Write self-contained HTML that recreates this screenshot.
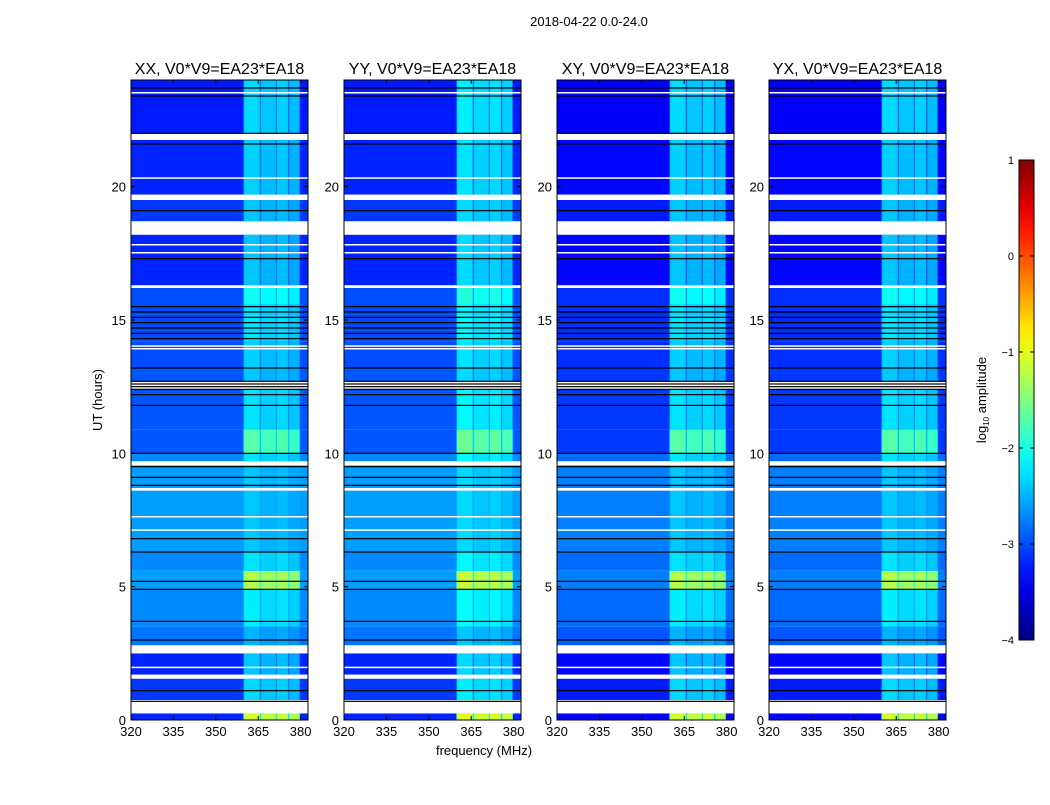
<!DOCTYPE html>
<html><head><meta charset="utf-8"><style>
body{margin:0;background:#fff;font-family:"Liberation Sans",sans-serif}
svg text{font-family:"Liberation Sans",sans-serif;fill:#000}
</style></head><body>
<svg id="fig" width="1050" height="800" viewBox="0 0 1050 800" xmlns="http://www.w3.org/2000/svg">
<rect width="1050" height="800" fill="#fff"/>
<text x="589" y="26" font-size="13" text-anchor="middle">2018-04-22 0.0-24.0</text>
<text x="484" y="755" font-size="13" text-anchor="middle">frequency (MHz)</text>
<text transform="translate(102,400) rotate(-90)" font-size="13" text-anchor="middle">UT (hours)</text>
<g id="panels"></g>
<g id="cbar"></g>
</svg>
<script>
const panelTitles = ["XX, V0*V9=EA23*EA18","YY, V0*V9=EA23*EA18","XY, V0*V9=EA23*EA18","YX, V0*V9=EA23*EA18"];
const freqTicks = [320,335,350,365,380];
const timeTicks = [0,5,10,15,20];
const segStart = [0,0.75,1.7,2.8,3.5,4.9,5.6,6.3,9.7,10.0,10.9,12.7,13.2,14.2,15.6,16.3,18.7,19.7,22.0];
const segEnd   = [0.25,1.55,2.5,3.5,4.9,5.6,6.3,9.55,10.0,10.9,12.4,13.2,14.2,15.6,16.2,18.2,19.5,21.75,24];
const bgLevel   = [-3.2,-3.1,-3.2,-2.8,-2.7,-2.6,-2.7,-2.6,-2.7,-2.95,-2.95,-2.95,-3.0,-3.0,-3.0,-3.2,-3.1,-3.2,-3.25];
const bandLevel = [-1.2,-2.4,-2.5,-2.6,-2.3,-1.35,-2.35,-2.5,-2.35,-1.8,-2.35,-2.5,-2.45,-2.35,-2.15,-2.5,-2.5,-2.45,-2.4];
const bgOffset = [0,0,-0.15,-0.15];
const bandOffset = [0,0.1,0,0];
const subStart = [360,366,371.6,376];
const subEnd   = [365.5,371.2,375.5,379.5];
const subGain  = [0.1,0,0.05,-0.05];
const flagStart = [0.25,1.55,2.5,9.55,16.2,18.2,19.5,21.75,1.95,7.1,7.6,8.6,17.5,17.8,20.3,23.5,13.9,14.0];
const flagEnd   = [0.75,1.7,2.8,9.7,16.3,18.7,19.7,22.0,2.0,7.15,7.65,8.7,17.55,17.85,20.35,23.55,13.95,14.05];
const blackLines = [23.7,23.4,22.0,21.6,19.1,17.3,13.2,12.4,12.5,12.6,12.7,14.3,14.5,14.7,14.9,15.1,15.3,15.5,10.0,9.5,9.1,8.8,6.8,6.3,5.2,4.9,3.7,3.0,1.1,0.7,11.8,12.2];

const PX=[131,344,557,769], PW=177, TOP=80, BOT=720;
const F0=320, F1=382.6, T0=0, T1=24;
const NS='http://www.w3.org/2000/svg';
function jet(v){
  let t=(v+4)/5; t=Math.max(0,Math.min(1,t));
  const f=(x)=>Math.round(255*Math.max(0,Math.min(1,1.5-Math.abs(4*t-x))));
  return `rgb(${f(3)},${f(2)},${f(1)})`;
}
function mk(tag,attrs,parent){const e=document.createElementNS(NS,tag);for(const k in attrs)e.setAttribute(k,attrs[k]);parent.appendChild(e);return e;}
const root=document.getElementById('panels');
PX.forEach((px,p)=>{
  const xs=f=>px+(f-F0)/(F1-F0)*PW;
  const ys=h=>BOT-(h-T0)/(T1-T0)*(BOT-TOP);
  const g=mk('g',{},root);
  
  
  mk('rect',{x:px,y:TOP,width:PW,height:BOT-TOP,fill:'#fff'},g);
  segStart.forEach((s,i)=>{
    const y1=ys(segEnd[i]), y0=ys(s);
    const r=mk('rect',{x:px,y:y1,width:PW,height:y0-y1,fill:jet(bgLevel[i]+bgOffset[p])},g);
    
    
    const bx0=xs(subStart[0]-0.3), bx1=xs(subEnd[3]+0.3);
    mk('rect',{x:bx0,y:y1,width:bx1-bx0,height:y0-y1,fill:jet((bgLevel[i]+bgOffset[p]+bandLevel[i])/2)},g);
    subStart.forEach((fs,j)=>{
      const c=mk('rect',{x:xs(fs),y:y1,width:xs(subEnd[j])-xs(fs),height:y0-y1,fill:jet(bandLevel[i]+bandOffset[p]+subGain[j])},g);
      
      
    });
  });
  flagStart.forEach((s,i)=>{
    const y1=ys(flagEnd[i]);
    mk('rect',{x:px,y:y1,width:PW,height:Math.max(1.5,ys(s)-y1),fill:'#fff'},g);
  });
  blackLines.forEach(h=>{
    mk('rect',{x:px,y:ys(h)-0.6,width:PW,height:1.2,fill:'#000'},g);
  });
  mk('rect',{x:px,y:TOP,width:PW,height:BOT-TOP,fill:'none',stroke:'#000','stroke-width':1},g);
  const t=mk('text',{x:px+PW/2,y:74,'font-size':16,'text-anchor':'middle'},g);
  t.textContent=panelTitles[p];
  
  
  freqTicks.forEach(f=>{
    const x=xs(f);
    mk('line',{x1:x,x2:x,y1:BOT,y2:BOT-4,stroke:'#000'},g);
    mk('line',{x1:x,x2:x,y1:TOP,y2:TOP+4,stroke:'#000'},g);
    const l=mk('text',{x:x,y:BOT+16,'font-size':13,'text-anchor':'middle'},g);
    l.textContent=f;
    
    
  });
  timeTicks.forEach(h=>{
    const y=ys(h);
    mk('line',{x1:px,x2:px+4,y1:y,y2:y,stroke:'#000'},g);
    mk('line',{x1:px+PW,x2:px+PW-4,y1:y,y2:y,stroke:'#000'},g);
    const l=mk('text',{x:px-5,y:y+5,'font-size':13,'text-anchor':'end'},g);
    l.textContent=h;
    
    
  });
});
const cbTicks=[1,0,-1,-2,-3,-4];
const cb=document.getElementById('cbar');


const CX=1019,CW=15,CT=160,CB=640;
const defs=mk('defs',{},cb);
const gr=mk('linearGradient',{id:'jetg',x1:0,y1:1,x2:0,y2:0},defs);
for(let i=0;i<=20;i++){const v=-4+5*i/20;mk('stop',{offset:i/20,'stop-color':jet(v)},gr);}
mk('rect',{x:CX,y:CT,width:CW,height:CB-CT,fill:'url(#jetg)',stroke:'#000'},cb);
cbTicks.forEach(v=>{
  const y=CB-(v+4)/5*(CB-CT);
  mk('line',{x1:CX,x2:CX+4,y1:y,y2:y,stroke:'#000'},cb);
  mk('line',{x1:CX+CW,x2:CX+CW-4,y1:y,y2:y,stroke:'#000'},cb);
  const l=mk('text',{x:CX-5,y:y+4,'font-size':11,'text-anchor':'end'},cb);
  l.textContent=v<0?'\u2212'+(-v):String(v);
  
  
});
const cl=mk('text',{transform:'translate(986,400) rotate(-90)','font-size':13,'text-anchor':'middle'},cb);
cl.innerHTML='log<tspan font-size="8" dy="3">10</tspan><tspan dy="-3"> amplitude</tspan>';


</script>
</body></html>
